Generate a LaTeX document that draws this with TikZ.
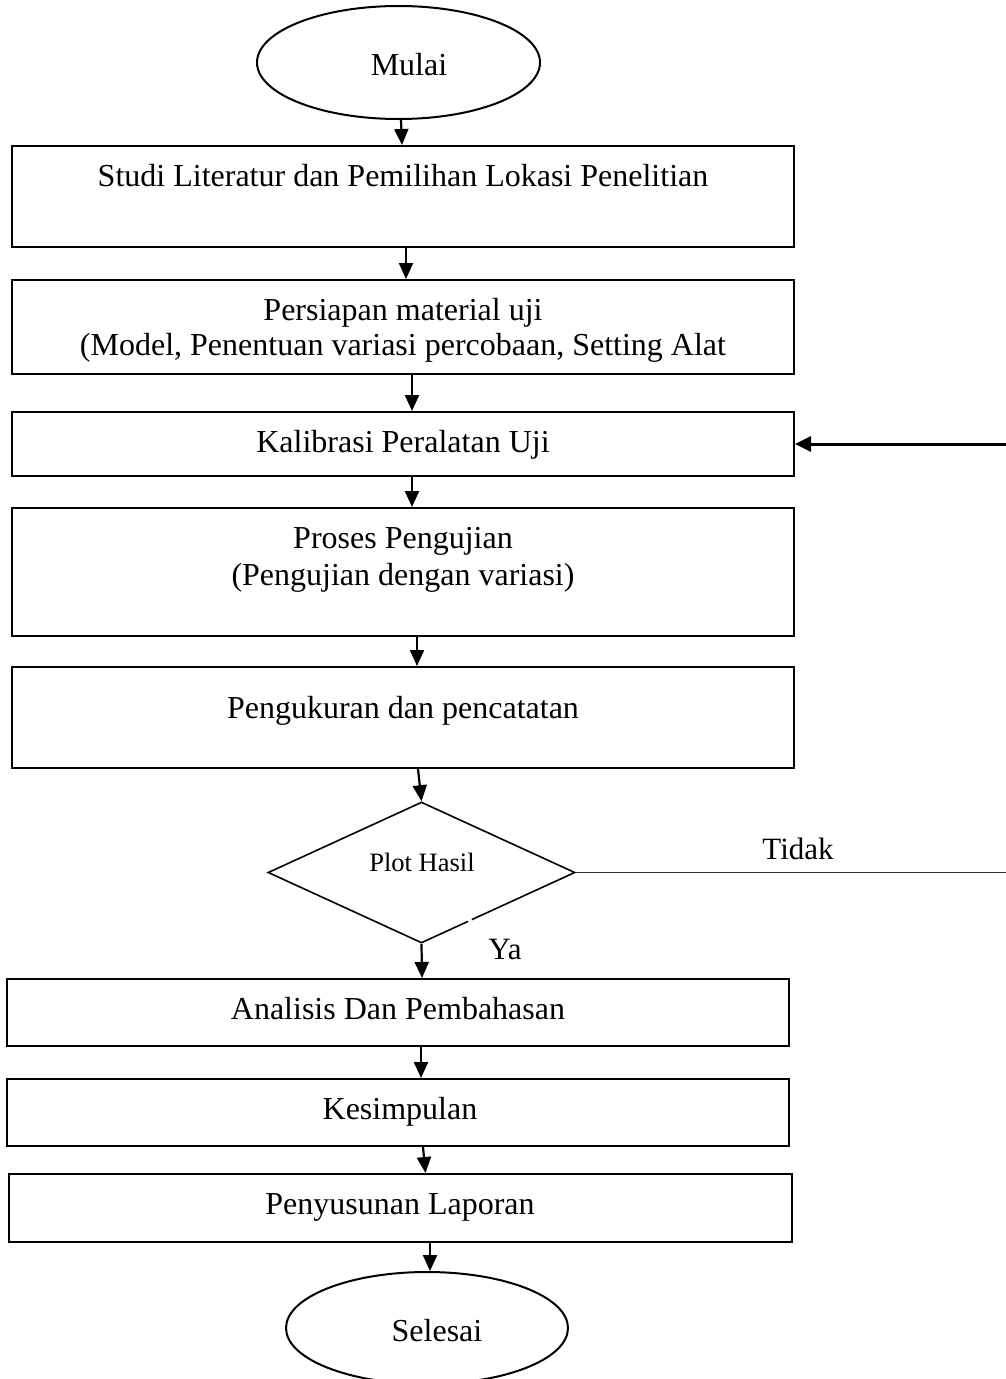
\documentclass[tikz,border=0pt]{standalone}
\usepackage{fontspec}
\setmainfont{Liberation Serif}
\usetikzlibrary{shapes.geometric,arrows.meta}
\begin{document}
\begin{tikzpicture}[x=1pt,y=-1pt,
  box/.style={draw, rectangle, line width=2pt, inner sep=0pt, minimum width=782pt},
  oval/.style={draw, ellipse, line width=2pt, inner sep=0pt},
  dia/.style={draw, diamond, line width=1.6pt, inner sep=0pt, minimum width=307pt, minimum height=141pt},
  txt/.style={anchor=base, inner sep=0pt, font=\fontsize{32}{37.5}\selectfont},
  stxt/.style={anchor=base, inner sep=0pt, font=\fontsize{26.5}{31}\selectfont},
  ltxt/.style={anchor=base, inner sep=0pt, font=\fontsize{31}{36}\selectfont},
  arr/.style={line width=2.2pt, -{Triangle[length=16pt,width=14pt]}},
  farr/.style={line width=3pt, -{Triangle[length=16pt,width=15pt]}},
  fline/.style={line width=1.4pt, draw=black!80}
]
\useasboundingbox (0,0) rectangle (1006,1379);
\clip (0,0) rectangle (1006,1379);

% shapes
\node[oval, minimum width=283pt, minimum height=113pt] (mulai) at (398.5,62.5) {};
\node[box, minimum height=101pt] (b1) at (403,196.5) {};
\node[box, minimum height=94pt]  (b2) at (403,327) {};
\node[box, minimum height=64pt]  (b3) at (403,444) {};
\node[box, minimum height=128pt] (b4) at (403,572) {};
\node[box, minimum height=101pt] (b5) at (403,717.5) {};
\node[dia] (d) at (421.5,872.5) {};
\node[box, minimum height=67pt] (b6) at (398,1012.5) {};
\node[box, minimum height=67pt] (b7) at (398,1112.5) {};
\node[box, minimum width=783pt, minimum height=68pt] (b8) at (400.5,1208) {};
\node[oval, minimum width=282pt, minimum height=112pt] (selesai) at (427,1328) {};

% small break in the diamond's lower right edge
\draw[white, line width=3pt] (468.3,921.5) -- (471.8,919.9);

% texts
\node[txt] (tmulai) at (409,75) {Mulai};
\node[txt] (t1) at (403,186) {Studi Literatur dan Pemilihan Lokasi Penelitian};
\node[txt] (t2a) at (403,320) {Persiapan material uji};
\node[txt] (t2b) at (403,355) {(Model, Penentuan variasi percobaan, Setting Alat};
\node[txt] (t3) at (403,452) {Kalibrasi Peralatan Uji};
\node[txt] (t4a) at (403,548) {Proses Pengujian};
\node[txt] (t4b) at (403,585) {(Pengujian dengan variasi)};
\node[txt] (t5) at (403,718) {Pengukuran dan pencatatan};
\node[stxt] (td) at (422,871) {Plot Hasil};
\node[ltxt] (tya) at (505,959) {Ya};
\node[ltxt] (ttidak) at (798,859) {Tidak};
\node[txt] (t6) at (398,1019) {Analisis Dan Pembahasan};
\node[txt] (t7) at (400,1119) {Kesimpulan};
\node[txt] (t8) at (400,1214) {Penyusunan Laporan};
\node[txt] (tsel) at (437,1341) {Selesai};

% connectors
\draw[arr] ([xshift=2.5pt]mulai.south) -- ([xshift=-1pt]b1.north);
\draw[arr] ([xshift=3pt]b1.south) -- ([xshift=3pt]b2.north);
\draw[arr] ([xshift=9pt]b2.south) -- ([xshift=9pt]b3.north);
\draw[arr] ([xshift=9pt]b3.south) -- ([xshift=9pt]b4.north);
\draw[arr] ([xshift=14pt]b4.south) -- ([xshift=14pt]b5.north);
\draw[arr] ([xshift=15pt]b5.south) -- (d.north);
\draw[arr] (d.south) -- ([xshift=24pt]b6.north);
\draw[arr] ([xshift=23pt]b6.south) -- ([xshift=23pt]b7.north);
\draw[arr] ([xshift=25pt]b7.south) -- ([xshift=25pt]b8.north);
\draw[arr] ([xshift=29.5pt]b8.south) -- ([xshift=3pt]selesai.north);

% feedback loop (its vertical run lies beyond the right edge)
\coordinate (r1) at (1014,872.5);
\coordinate (r2) at (1014,444);
\draw[fline] (d.east) -- (r1) -- (r2);
\draw[farr] (r2) -- (b3.east);
\end{tikzpicture}
\end{document}
